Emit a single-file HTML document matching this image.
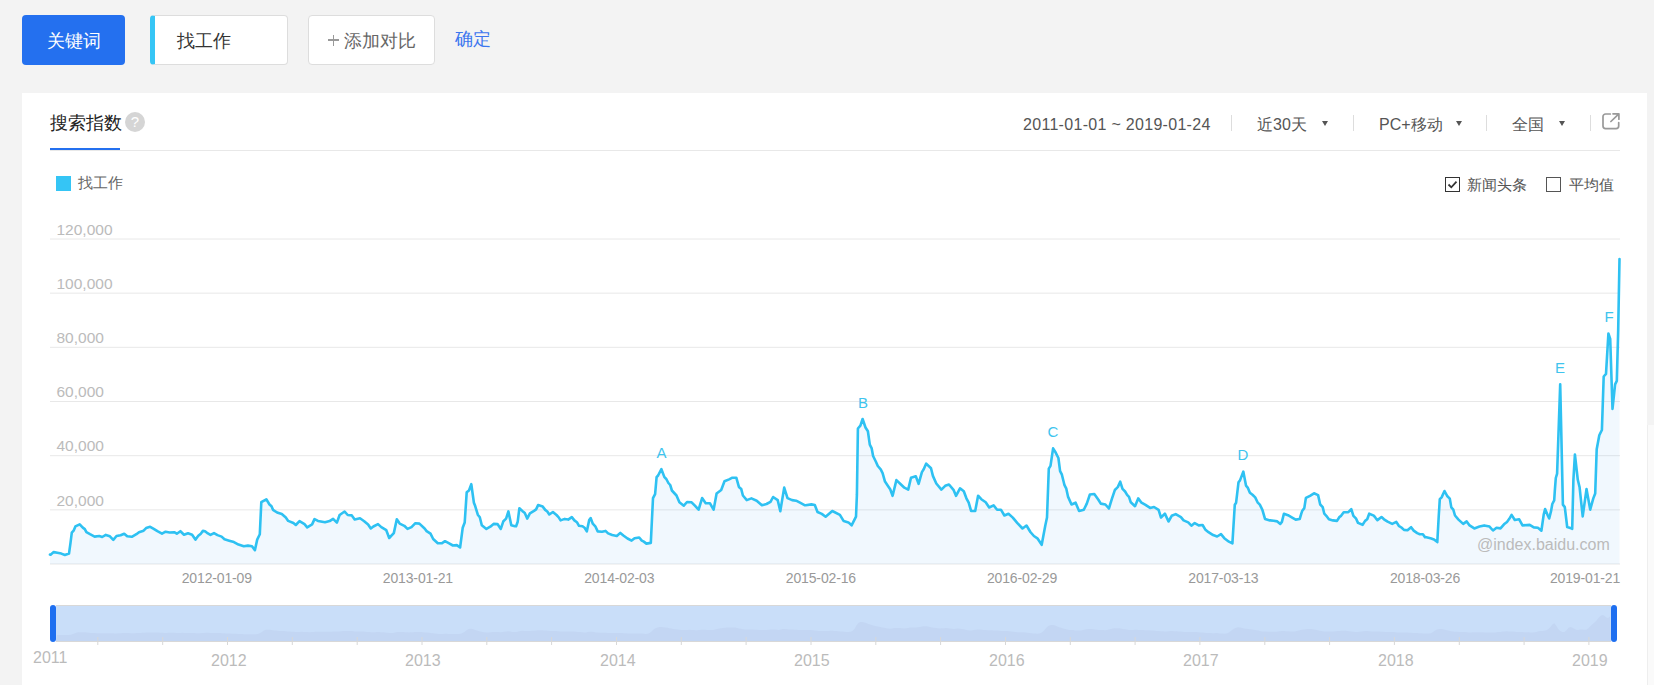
<!DOCTYPE html>
<html><head><meta charset="utf-8">
<style>
*{margin:0;padding:0;box-sizing:border-box}
html,body{width:1654px;height:685px;overflow:hidden;background:#f3f3f3;font-family:"Liberation Sans",sans-serif;position:relative}
.a{position:absolute;white-space:nowrap}
.btn{position:absolute;top:15px;height:50px;border-radius:4px}
#kw{left:22px;width:103px;background:#2470ef;color:#fff;font-size:18px}
#word{left:150px;width:138px;background:#fff;border:1px solid #ddd;border-left:5px solid #36c5f5;color:#333;font-size:18px}
#add{left:308px;width:127px;background:#fff;border:1px solid #ddd;color:#666;font-size:18px}
#panel{position:absolute;left:22px;top:93px;width:1625px;height:600px;background:#fff}
#strip{position:absolute;left:1647px;top:425px;width:7px;height:260px;background:#fafafa;border-left:1px solid #eee}
.hd{font-size:16px;color:#555;top:115px}
.sep{position:absolute;top:115px;width:1px;height:16px;background:#ddd}
.tri{position:absolute;top:121px;width:0;height:0;border-left:3px solid transparent;border-right:3px solid transparent;border-top:5px solid #555}
.ylab{font-size:15.5px;color:#bbb;left:56.5px}
.xlab{font-size:14px;color:#999;top:570px;letter-spacing:-0.15px;transform:translateX(-50%)}
.yr{font-size:16px;color:#bbb;top:652px}
.ann{font-size:15px;color:#3ec4ee}
</style></head><body>
<div class="btn" id="kw"><span class="a" style="left:25px;top:14px">关键词</span></div>
<div class="btn" id="word"><span class="a" style="left:22px;top:13px">找工作</span></div>
<div class="btn" id="add"><span class="a" style="left:35px;top:13px">添加对比</span></div>
<div class="a" style="left:328px;top:39.3px;width:11px;height:1.5px;background:#999"></div><div class="a" style="left:332.7px;top:34.6px;width:1.5px;height:11px;background:#999"></div>
<span class="a" style="left:455px;top:27px;font-size:18px;color:#3c76ef">确定</span>

<div id="panel"></div>
<div id="strip"></div>

<!-- header -->
<span class="a" style="left:50px;top:111px;font-size:18px;color:#222">搜索指数</span>
<div class="a" style="left:125px;top:112px;width:20px;height:20px;border-radius:50%;background:#d5d5d5;color:#fff;font-size:15px;text-align:center;line-height:20px">?</div>
<div class="a" style="left:50px;top:150px;width:1570px;height:1px;background:#e8e8e8"></div>
<div class="a" style="left:50px;top:148px;width:70px;height:2px;background:#2470ef"></div>

<span class="a hd" style="left:1023px;top:116px;letter-spacing:0.3px">2011-01-01 ~ 2019-01-24</span>
<div class="sep" style="left:1231px"></div>
<span class="a hd" style="left:1257px">近30天</span>
<div class="tri" style="left:1322px"></div>
<div class="sep" style="left:1353px"></div>
<span class="a hd" style="left:1379px">PC+移动</span>
<div class="tri" style="left:1456px"></div>
<div class="sep" style="left:1486px"></div>
<span class="a hd" style="left:1512px">全国</span>
<div class="tri" style="left:1559px"></div>
<div class="sep" style="left:1590px"></div>
<svg class="a" style="left:1601px;top:112px" width="20" height="18" viewBox="0 0 20 18"><path d="M9.3 2H4.6A2.6 2.6 0 0 0 2 4.6V14A2.6 2.6 0 0 0 4.6 16.6H15.1A2.6 2.6 0 0 0 17.7 14V10.6" fill="none" stroke="#999" stroke-width="1.7" stroke-linecap="round"/><path d="M12 1.8H17.9V7.2M17.6 2.1L9.9 9.5" fill="none" stroke="#999" stroke-width="1.7" stroke-linecap="round" stroke-linejoin="round"/></svg>

<!-- legend -->
<div class="a" style="left:56px;top:176px;width:15px;height:15px;background:#35c5f5"></div>
<span class="a" style="left:78px;top:174px;font-size:15px;color:#666">找工作</span>
<div class="a" style="left:1445px;top:177px;width:15px;height:15px;border:1.5px solid #333;border-radius:0"></div>
<svg class="a" style="left:1445px;top:177px" width="15" height="15"><path d="M3.5 7.5l2.8 2.8 5.2-5.6" fill="none" stroke="#333" stroke-width="1.8"/></svg>
<span class="a" style="left:1467px;top:176px;font-size:15px;color:#555">新闻头条</span>
<div class="a" style="left:1546px;top:177px;width:15px;height:15px;border:1.5px solid #555;border-radius:0"></div>
<span class="a" style="left:1569px;top:176px;font-size:15px;color:#555">平均值</span>

<!-- chart svg -->
<svg class="a" style="left:0;top:0" width="1654" height="685" id="chart">
<g stroke="#e8e8e8" stroke-width="1">
<line x1="50" x2="1620" y1="239.00" y2="239.00"/>
<line x1="50" x2="1620" y1="293.17" y2="293.17"/>
<line x1="50" x2="1620" y1="347.34" y2="347.34"/>
<line x1="50" x2="1620" y1="401.51" y2="401.51"/>
<line x1="50" x2="1620" y1="455.68" y2="455.68"/>
<line x1="50" x2="1620" y1="509.85" y2="509.85"/>
<line x1="50" x2="1620" y1="564.02" y2="564.02"/>
</g>
<!--LINE--><path d="M50.0,554.5 L50.6,554.7 L53.7,552.1 L57.3,552.8 L61.3,553.6 L64.9,555.0 L69.0,553.6 L70.5,542.9 L71.8,532.7 L73.6,530.7 L75.4,526.4 L79.7,524.3 L82.8,527.6 L84.8,529.1 L86.4,532.2 L90.0,534.2 L94.6,536.6 L99.2,536.0 L102.2,537.0 L105.8,534.9 L109.9,536.3 L113.3,539.8 L116.5,536.0 L120.6,535.2 L124.2,533.7 L127.2,536.3 L131.8,536.8 L136.4,534.2 L139.0,532.2 L143.6,530.7 L146.1,528.1 L150.2,526.8 L153.3,528.6 L157.4,531.2 L162.0,533.7 L165.6,531.7 L169.6,532.5 L174.2,532.2 L176.8,533.7 L180.4,531.2 L184.0,534.7 L188.0,533.2 L192.1,534.7 L195.4,539.6 L198.3,535.8 L200.8,533.7 L202.9,530.9 L205.0,531.2 L207.0,532.8 L210.5,534.9 L214.0,533.1 L217.5,535.1 L221.6,536.6 L224.5,539.3 L229.2,540.7 L233.9,542.1 L238.5,544.6 L243.8,546.3 L247.9,545.6 L252.0,546.3 L254.9,550.1 L257.2,539.6 L259.8,534.3 L261.3,502.2 L263.6,500.8 L266.3,499.3 L269.5,504.5 L271.5,506.3 L273.0,509.8 L277.1,512.5 L281.8,514.1 L285.8,517.6 L288.2,520.9 L293.4,523.0 L295.8,525.0 L299.5,521.1 L304.5,524.1 L307.2,527.3 L312.1,524.4 L314.5,519.1 L318.0,520.9 L325.0,522.3 L329.6,521.1 L333.1,518.8 L336.9,522.6 L339.6,515.0 L344.6,511.5 L347.7,515.0 L351.8,515.4 L354.7,519.5 L360.0,518.3 L364.2,521.2 L368.1,524.5 L370.8,528.5 L373.4,526.5 L378.0,524.1 L381.3,527.1 L386.3,530.2 L389.2,538.0 L393.8,533.1 L396.8,519.3 L399.7,523.6 L404.3,525.8 L407.5,528.9 L411.5,527.1 L415.4,523.2 L419.4,523.6 L424.6,528.5 L426.6,531.1 L430.5,533.7 L433.2,539.0 L437.8,543.3 L441.7,543.3 L445.0,541.2 L449.6,543.6 L452.9,545.5 L456.8,545.1 L460.1,547.5 L462.7,527.8 L464.7,522.5 L466.7,492.3 L469.0,490.4 L471.3,484.2 L473.9,502.8 L475.2,506.1 L477.8,514.7 L479.8,517.3 L481.8,525.2 L486.4,528.9 L490.3,526.7 L493.6,523.9 L497.5,524.1 L500.8,528.9 L503.4,521.2 L506.1,518.6 L508.4,511.4 L511.3,525.2 L515.0,526.2 L516.1,526.3 L517.7,521.7 L519.4,508.2 L522.3,510.9 L524.8,513.0 L527.2,518.6 L529.9,513.3 L534.0,510.9 L536.1,509.4 L538.1,505.1 L542.7,506.6 L545.2,509.9 L547.3,511.5 L549.3,514.5 L552.9,512.0 L556.5,515.0 L558.5,517.1 L560.6,520.4 L564.7,518.9 L568.2,519.6 L571.8,517.1 L574.4,520.4 L576.9,522.2 L579.0,525.8 L582.5,526.3 L584.6,527.8 L586.8,531.4 L589.2,520.1 L590.7,518.1 L592.8,523.7 L595.3,526.3 L597.7,531.4 L602.0,531.7 L605.5,530.9 L608.1,533.4 L612.2,535.0 L616.8,536.0 L620.3,532.9 L623.4,535.5 L627.5,538.5 L631.6,540.6 L634.6,538.2 L639.2,537.5 L641.8,540.6 L643.8,541.6 L646.4,543.6 L650.8,542.9 L653.0,498.2 L655.1,494.1 L656.6,477.1 L658.1,475.5 L661.4,469.2 L664.4,477.1 L666.3,479.0 L668.4,483.0 L670.2,485.0 L671.9,490.5 L676.5,495.5 L679.4,502.3 L683.8,505.7 L687.0,502.0 L691.6,502.3 L694.9,505.7 L698.6,509.7 L702.1,498.1 L705.7,503.3 L710.0,503.3 L713.6,509.7 L716.6,493.5 L721.2,490.0 L724.5,481.3 L729.1,479.4 L732.4,477.7 L736.3,477.7 L738.9,486.9 L741.2,488.9 L742.9,495.5 L746.8,500.1 L751.4,498.4 L756.7,500.7 L761.9,505.3 L766.5,504.0 L770.5,501.8 L773.1,497.0 L777.7,500.1 L780.3,511.2 L784.2,487.6 L787.5,498.1 L792.1,500.1 L796.1,500.7 L800.0,502.7 L805.0,505.3 L805.7,505.3 L811.4,504.4 L814.8,505.0 L817.5,512.0 L821.8,513.9 L825.6,516.7 L832.3,511.0 L839.9,514.8 L843.7,521.1 L848.4,522.4 L851.6,525.3 L856.0,516.7 L856.9,494.9 L857.9,428.5 L860.4,425.6 L862.6,419.0 L865.5,427.5 L867.9,431.3 L869.8,444.6 L871.7,448.4 L873.1,456.0 L875.9,461.7 L877.8,466.0 L880.7,469.3 L882.6,473.1 L885.0,481.6 L888.3,486.4 L890.2,489.2 L892.6,495.8 L896.4,480.1 L901.5,485.0 L904.4,487.7 L908.2,489.6 L911.0,477.8 L915.8,476.3 L918.6,483.9 L921.9,472.1 L923.7,469.3 L926.2,463.6 L931.0,468.3 L932.9,475.9 L936.3,483.5 L941.4,489.6 L945.2,485.8 L949.0,484.5 L953.7,490.2 L956.0,495.8 L960.0,488.3 L963.8,491.3 L966.4,498.3 L968.7,502.7 L971.1,511.0 L975.2,511.0 L978.1,495.7 L981.3,499.2 L985.7,502.2 L989.2,507.5 L993.6,505.4 L997.1,509.7 L1000.9,509.7 L1004.4,515.5 L1008.5,513.8 L1012.8,517.6 L1017.2,522.9 L1022.5,528.5 L1026.5,525.5 L1030.4,532.0 L1033.9,536.0 L1037.4,538.3 L1041.7,544.8 L1045.3,525.5 L1047.0,517.6 L1048.8,468.6 L1050.5,465.9 L1053.1,448.4 L1055.8,452.8 L1058.4,458.0 L1060.1,471.2 L1061.9,474.7 L1064.5,485.2 L1066.3,488.7 L1068.0,496.6 L1071.5,504.5 L1075.6,502.7 L1079.1,511.0 L1083.8,509.7 L1086.8,503.6 L1089.9,494.5 L1094.3,494.0 L1098.4,499.7 L1100.8,503.6 L1105.4,504.5 L1108.9,508.5 L1111.8,499.2 L1115.0,489.6 L1115.3,489.6 L1117.9,486.9 L1120.2,481.7 L1122.5,488.9 L1125.1,491.5 L1127.1,494.8 L1129.0,496.8 L1130.8,502.3 L1135.0,506.2 L1138.2,498.4 L1141.5,502.7 L1145.5,504.9 L1150.1,507.9 L1154.0,507.0 L1158.6,509.9 L1161.0,517.5 L1164.9,513.6 L1168.5,521.5 L1171.7,515.8 L1175.7,514.1 L1180.9,517.1 L1183.6,520.4 L1188.2,522.4 L1191.4,525.7 L1194.7,523.1 L1198.7,525.4 L1202.6,525.0 L1205.2,529.4 L1208.5,532.2 L1213.1,535.1 L1217.1,536.5 L1221.0,534.2 L1224.3,538.2 L1228.9,541.7 L1232.4,543.4 L1234.8,504.7 L1236.1,502.7 L1238.5,482.3 L1240.0,480.4 L1243.3,471.6 L1246.0,485.6 L1247.7,487.6 L1249.9,492.8 L1252.5,494.8 L1255.2,497.4 L1257.8,502.7 L1259.8,504.7 L1262.4,509.9 L1265.0,518.9 L1270.0,520.4 L1270.1,520.4 L1273.7,520.7 L1277.3,521.4 L1280.3,523.9 L1281.9,521.9 L1283.9,513.7 L1288.0,515.2 L1292.6,517.8 L1295.7,519.6 L1299.7,519.0 L1301.3,513.7 L1302.3,510.7 L1304.3,508.1 L1305.9,497.9 L1310.0,495.8 L1314.0,493.3 L1318.1,495.1 L1320.2,504.5 L1322.7,507.1 L1324.3,513.7 L1326.3,515.8 L1328.9,519.3 L1332.9,520.4 L1337.0,520.9 L1339.6,516.8 L1341.1,515.8 L1343.7,512.2 L1348.3,512.2 L1351.3,509.1 L1353.4,515.8 L1355.9,518.3 L1358.0,522.9 L1362.6,524.8 L1365.1,520.9 L1367.2,519.3 L1369.2,513.7 L1373.8,515.6 L1375.9,518.3 L1377.4,520.1 L1381.5,517.0 L1384.0,519.3 L1387.6,521.7 L1392.2,523.9 L1396.3,521.9 L1398.8,525.8 L1401.4,527.5 L1404.0,529.9 L1407.5,530.3 L1411.1,527.2 L1413.7,530.6 L1417.2,533.1 L1419.8,534.2 L1422.9,534.2 L1425.0,537.2 L1425.3,537.1 L1430.5,538.3 L1434.0,539.5 L1437.3,542.1 L1438.7,516.7 L1439.8,499.2 L1441.6,497.4 L1444.5,491.0 L1447.4,496.3 L1449.8,498.6 L1451.3,507.4 L1453.3,509.7 L1455.0,515.5 L1458.5,519.6 L1463.2,523.9 L1466.7,521.4 L1469.6,525.4 L1474.3,528.4 L1479.5,526.6 L1484.2,525.4 L1489.5,526.6 L1493.0,530.5 L1496.5,527.8 L1500.5,528.4 L1504.0,524.3 L1507.0,521.9 L1509.3,518.8 L1511.6,514.9 L1514.8,520.0 L1519.2,519.3 L1522.5,525.4 L1529.7,524.9 L1533.8,527.4 L1537.9,527.8 L1540.0,529.5 L1541.4,530.7 L1543.7,514.6 L1545.1,509.0 L1547.4,514.6 L1549.2,518.5 L1551.1,510.9 L1552.3,504.0 L1554.2,500.3 L1554.8,491.0 L1555.8,478.0 L1557.1,473.6 L1560.2,384.3 L1562.9,504.6 L1564.8,507.1 L1567.2,527.0 L1571.0,528.2 L1572.2,528.8 L1573.4,479.8 L1574.9,454.5 L1577.8,479.8 L1579.6,487.3 L1582.7,516.4 L1586.5,489.1 L1590.2,509.6 L1593.3,498.4 L1595.2,493.5 L1596.7,449.3 L1599.3,435.3 L1601.9,430.0 L1603.7,376.5 L1606.0,373.9 L1608.4,333.5 L1610.2,338.8 L1612.5,408.9 L1615.1,384.4 L1616.8,380.9 L1618.2,330.0 L1619.5,259.0 L1619.5,564 L50,564 Z" fill="rgb(80,167,242)" fill-opacity="0.08" stroke="none"/>
<path d="M50.0,554.5 L50.6,554.7 L53.7,552.1 L57.3,552.8 L61.3,553.6 L64.9,555.0 L69.0,553.6 L70.5,542.9 L71.8,532.7 L73.6,530.7 L75.4,526.4 L79.7,524.3 L82.8,527.6 L84.8,529.1 L86.4,532.2 L90.0,534.2 L94.6,536.6 L99.2,536.0 L102.2,537.0 L105.8,534.9 L109.9,536.3 L113.3,539.8 L116.5,536.0 L120.6,535.2 L124.2,533.7 L127.2,536.3 L131.8,536.8 L136.4,534.2 L139.0,532.2 L143.6,530.7 L146.1,528.1 L150.2,526.8 L153.3,528.6 L157.4,531.2 L162.0,533.7 L165.6,531.7 L169.6,532.5 L174.2,532.2 L176.8,533.7 L180.4,531.2 L184.0,534.7 L188.0,533.2 L192.1,534.7 L195.4,539.6 L198.3,535.8 L200.8,533.7 L202.9,530.9 L205.0,531.2 L207.0,532.8 L210.5,534.9 L214.0,533.1 L217.5,535.1 L221.6,536.6 L224.5,539.3 L229.2,540.7 L233.9,542.1 L238.5,544.6 L243.8,546.3 L247.9,545.6 L252.0,546.3 L254.9,550.1 L257.2,539.6 L259.8,534.3 L261.3,502.2 L263.6,500.8 L266.3,499.3 L269.5,504.5 L271.5,506.3 L273.0,509.8 L277.1,512.5 L281.8,514.1 L285.8,517.6 L288.2,520.9 L293.4,523.0 L295.8,525.0 L299.5,521.1 L304.5,524.1 L307.2,527.3 L312.1,524.4 L314.5,519.1 L318.0,520.9 L325.0,522.3 L329.6,521.1 L333.1,518.8 L336.9,522.6 L339.6,515.0 L344.6,511.5 L347.7,515.0 L351.8,515.4 L354.7,519.5 L360.0,518.3 L364.2,521.2 L368.1,524.5 L370.8,528.5 L373.4,526.5 L378.0,524.1 L381.3,527.1 L386.3,530.2 L389.2,538.0 L393.8,533.1 L396.8,519.3 L399.7,523.6 L404.3,525.8 L407.5,528.9 L411.5,527.1 L415.4,523.2 L419.4,523.6 L424.6,528.5 L426.6,531.1 L430.5,533.7 L433.2,539.0 L437.8,543.3 L441.7,543.3 L445.0,541.2 L449.6,543.6 L452.9,545.5 L456.8,545.1 L460.1,547.5 L462.7,527.8 L464.7,522.5 L466.7,492.3 L469.0,490.4 L471.3,484.2 L473.9,502.8 L475.2,506.1 L477.8,514.7 L479.8,517.3 L481.8,525.2 L486.4,528.9 L490.3,526.7 L493.6,523.9 L497.5,524.1 L500.8,528.9 L503.4,521.2 L506.1,518.6 L508.4,511.4 L511.3,525.2 L515.0,526.2 L516.1,526.3 L517.7,521.7 L519.4,508.2 L522.3,510.9 L524.8,513.0 L527.2,518.6 L529.9,513.3 L534.0,510.9 L536.1,509.4 L538.1,505.1 L542.7,506.6 L545.2,509.9 L547.3,511.5 L549.3,514.5 L552.9,512.0 L556.5,515.0 L558.5,517.1 L560.6,520.4 L564.7,518.9 L568.2,519.6 L571.8,517.1 L574.4,520.4 L576.9,522.2 L579.0,525.8 L582.5,526.3 L584.6,527.8 L586.8,531.4 L589.2,520.1 L590.7,518.1 L592.8,523.7 L595.3,526.3 L597.7,531.4 L602.0,531.7 L605.5,530.9 L608.1,533.4 L612.2,535.0 L616.8,536.0 L620.3,532.9 L623.4,535.5 L627.5,538.5 L631.6,540.6 L634.6,538.2 L639.2,537.5 L641.8,540.6 L643.8,541.6 L646.4,543.6 L650.8,542.9 L653.0,498.2 L655.1,494.1 L656.6,477.1 L658.1,475.5 L661.4,469.2 L664.4,477.1 L666.3,479.0 L668.4,483.0 L670.2,485.0 L671.9,490.5 L676.5,495.5 L679.4,502.3 L683.8,505.7 L687.0,502.0 L691.6,502.3 L694.9,505.7 L698.6,509.7 L702.1,498.1 L705.7,503.3 L710.0,503.3 L713.6,509.7 L716.6,493.5 L721.2,490.0 L724.5,481.3 L729.1,479.4 L732.4,477.7 L736.3,477.7 L738.9,486.9 L741.2,488.9 L742.9,495.5 L746.8,500.1 L751.4,498.4 L756.7,500.7 L761.9,505.3 L766.5,504.0 L770.5,501.8 L773.1,497.0 L777.7,500.1 L780.3,511.2 L784.2,487.6 L787.5,498.1 L792.1,500.1 L796.1,500.7 L800.0,502.7 L805.0,505.3 L805.7,505.3 L811.4,504.4 L814.8,505.0 L817.5,512.0 L821.8,513.9 L825.6,516.7 L832.3,511.0 L839.9,514.8 L843.7,521.1 L848.4,522.4 L851.6,525.3 L856.0,516.7 L856.9,494.9 L857.9,428.5 L860.4,425.6 L862.6,419.0 L865.5,427.5 L867.9,431.3 L869.8,444.6 L871.7,448.4 L873.1,456.0 L875.9,461.7 L877.8,466.0 L880.7,469.3 L882.6,473.1 L885.0,481.6 L888.3,486.4 L890.2,489.2 L892.6,495.8 L896.4,480.1 L901.5,485.0 L904.4,487.7 L908.2,489.6 L911.0,477.8 L915.8,476.3 L918.6,483.9 L921.9,472.1 L923.7,469.3 L926.2,463.6 L931.0,468.3 L932.9,475.9 L936.3,483.5 L941.4,489.6 L945.2,485.8 L949.0,484.5 L953.7,490.2 L956.0,495.8 L960.0,488.3 L963.8,491.3 L966.4,498.3 L968.7,502.7 L971.1,511.0 L975.2,511.0 L978.1,495.7 L981.3,499.2 L985.7,502.2 L989.2,507.5 L993.6,505.4 L997.1,509.7 L1000.9,509.7 L1004.4,515.5 L1008.5,513.8 L1012.8,517.6 L1017.2,522.9 L1022.5,528.5 L1026.5,525.5 L1030.4,532.0 L1033.9,536.0 L1037.4,538.3 L1041.7,544.8 L1045.3,525.5 L1047.0,517.6 L1048.8,468.6 L1050.5,465.9 L1053.1,448.4 L1055.8,452.8 L1058.4,458.0 L1060.1,471.2 L1061.9,474.7 L1064.5,485.2 L1066.3,488.7 L1068.0,496.6 L1071.5,504.5 L1075.6,502.7 L1079.1,511.0 L1083.8,509.7 L1086.8,503.6 L1089.9,494.5 L1094.3,494.0 L1098.4,499.7 L1100.8,503.6 L1105.4,504.5 L1108.9,508.5 L1111.8,499.2 L1115.0,489.6 L1115.3,489.6 L1117.9,486.9 L1120.2,481.7 L1122.5,488.9 L1125.1,491.5 L1127.1,494.8 L1129.0,496.8 L1130.8,502.3 L1135.0,506.2 L1138.2,498.4 L1141.5,502.7 L1145.5,504.9 L1150.1,507.9 L1154.0,507.0 L1158.6,509.9 L1161.0,517.5 L1164.9,513.6 L1168.5,521.5 L1171.7,515.8 L1175.7,514.1 L1180.9,517.1 L1183.6,520.4 L1188.2,522.4 L1191.4,525.7 L1194.7,523.1 L1198.7,525.4 L1202.6,525.0 L1205.2,529.4 L1208.5,532.2 L1213.1,535.1 L1217.1,536.5 L1221.0,534.2 L1224.3,538.2 L1228.9,541.7 L1232.4,543.4 L1234.8,504.7 L1236.1,502.7 L1238.5,482.3 L1240.0,480.4 L1243.3,471.6 L1246.0,485.6 L1247.7,487.6 L1249.9,492.8 L1252.5,494.8 L1255.2,497.4 L1257.8,502.7 L1259.8,504.7 L1262.4,509.9 L1265.0,518.9 L1270.0,520.4 L1270.1,520.4 L1273.7,520.7 L1277.3,521.4 L1280.3,523.9 L1281.9,521.9 L1283.9,513.7 L1288.0,515.2 L1292.6,517.8 L1295.7,519.6 L1299.7,519.0 L1301.3,513.7 L1302.3,510.7 L1304.3,508.1 L1305.9,497.9 L1310.0,495.8 L1314.0,493.3 L1318.1,495.1 L1320.2,504.5 L1322.7,507.1 L1324.3,513.7 L1326.3,515.8 L1328.9,519.3 L1332.9,520.4 L1337.0,520.9 L1339.6,516.8 L1341.1,515.8 L1343.7,512.2 L1348.3,512.2 L1351.3,509.1 L1353.4,515.8 L1355.9,518.3 L1358.0,522.9 L1362.6,524.8 L1365.1,520.9 L1367.2,519.3 L1369.2,513.7 L1373.8,515.6 L1375.9,518.3 L1377.4,520.1 L1381.5,517.0 L1384.0,519.3 L1387.6,521.7 L1392.2,523.9 L1396.3,521.9 L1398.8,525.8 L1401.4,527.5 L1404.0,529.9 L1407.5,530.3 L1411.1,527.2 L1413.7,530.6 L1417.2,533.1 L1419.8,534.2 L1422.9,534.2 L1425.0,537.2 L1425.3,537.1 L1430.5,538.3 L1434.0,539.5 L1437.3,542.1 L1438.7,516.7 L1439.8,499.2 L1441.6,497.4 L1444.5,491.0 L1447.4,496.3 L1449.8,498.6 L1451.3,507.4 L1453.3,509.7 L1455.0,515.5 L1458.5,519.6 L1463.2,523.9 L1466.7,521.4 L1469.6,525.4 L1474.3,528.4 L1479.5,526.6 L1484.2,525.4 L1489.5,526.6 L1493.0,530.5 L1496.5,527.8 L1500.5,528.4 L1504.0,524.3 L1507.0,521.9 L1509.3,518.8 L1511.6,514.9 L1514.8,520.0 L1519.2,519.3 L1522.5,525.4 L1529.7,524.9 L1533.8,527.4 L1537.9,527.8 L1540.0,529.5 L1541.4,530.7 L1543.7,514.6 L1545.1,509.0 L1547.4,514.6 L1549.2,518.5 L1551.1,510.9 L1552.3,504.0 L1554.2,500.3 L1554.8,491.0 L1555.8,478.0 L1557.1,473.6 L1560.2,384.3 L1562.9,504.6 L1564.8,507.1 L1567.2,527.0 L1571.0,528.2 L1572.2,528.8 L1573.4,479.8 L1574.9,454.5 L1577.8,479.8 L1579.6,487.3 L1582.7,516.4 L1586.5,489.1 L1590.2,509.6 L1593.3,498.4 L1595.2,493.5 L1596.7,449.3 L1599.3,435.3 L1601.9,430.0 L1603.7,376.5 L1606.0,373.9 L1608.4,333.5 L1610.2,338.8 L1612.5,408.9 L1615.1,384.4 L1616.8,380.9 L1618.2,330.0 L1619.5,259.0" fill="none" stroke="#2ec1f2" stroke-width="2.6" stroke-linejoin="round" stroke-linecap="round"/><!--/LINE-->
<!--SLIDER--><rect x="56" y="605" width="1555" height="36" fill="#c9def9"/>
<path d="M56,641 L57.0,634.9 L59.0,634.9 L61.0,634.9 L62.9,634.9 L64.9,635.0 L66.9,635.0 L68.9,635.0 L70.9,634.7 L72.9,634.1 L74.9,633.2 L76.9,632.6 L78.9,632.3 L80.8,632.2 L82.8,632.2 L84.8,632.3 L86.8,632.5 L88.8,632.7 L90.8,632.9 L92.8,633.0 L94.8,633.1 L96.7,633.2 L98.7,633.2 L100.7,633.2 L102.7,633.2 L104.7,633.2 L106.7,633.2 L108.7,633.2 L110.7,633.2 L112.7,633.3 L114.6,633.4 L116.6,633.4 L118.6,633.3 L120.6,633.2 L122.6,633.1 L124.6,633.1 L126.6,633.1 L128.6,633.1 L130.6,633.2 L132.5,633.2 L134.5,633.2 L136.5,633.1 L138.5,633.0 L140.5,632.9 L142.5,632.8 L144.5,632.7 L146.5,632.6 L148.4,632.5 L150.4,632.4 L152.4,632.4 L154.4,632.4 L156.4,632.5 L158.4,632.6 L160.4,632.7 L162.4,632.8 L164.4,632.9 L166.3,632.9 L168.3,632.8 L170.3,632.8 L172.3,632.8 L174.3,632.8 L176.3,632.9 L178.3,632.9 L180.3,632.9 L182.3,632.8 L184.2,632.9 L186.2,633.0 L188.2,633.0 L190.2,633.0 L192.2,633.0 L194.2,633.1 L196.2,633.3 L198.2,633.3 L200.2,633.2 L202.1,633.0 L204.1,632.9 L206.1,632.8 L208.1,632.8 L210.1,632.9 L212.1,633.0 L214.1,633.0 L216.1,633.0 L218.0,633.0 L220.0,633.1 L222.0,633.2 L224.0,633.3 L226.0,633.5 L228.0,633.6 L230.0,633.6 L232.0,633.7 L234.0,633.8 L235.9,633.8 L237.9,633.9 L239.9,634.0 L241.9,634.1 L243.9,634.2 L245.9,634.2 L247.9,634.2 L249.9,634.2 L251.9,634.2 L253.8,634.3 L255.8,634.3 L257.8,633.9 L259.8,633.2 L261.8,631.9 L263.8,630.6 L265.8,629.8 L267.8,629.7 L269.8,629.8 L271.7,630.1 L273.7,630.4 L275.7,630.6 L277.7,630.8 L279.7,630.9 L281.7,631.0 L283.7,631.1 L285.7,631.2 L287.6,631.4 L289.6,631.6 L291.6,631.7 L293.6,631.8 L295.6,631.9 L297.6,632.0 L299.6,631.9 L301.6,631.8 L303.6,631.9 L305.5,632.0 L307.5,632.1 L309.5,632.2 L311.5,632.1 L313.5,632.0 L315.5,631.7 L317.5,631.7 L319.5,631.7 L321.5,631.7 L323.4,631.8 L325.4,631.8 L327.4,631.8 L329.4,631.7 L331.4,631.7 L333.4,631.6 L335.4,631.6 L337.4,631.6 L339.3,631.5 L341.3,631.2 L343.3,631.0 L345.3,630.9 L347.3,630.9 L349.3,631.0 L351.3,631.1 L353.3,631.2 L355.3,631.4 L357.2,631.5 L359.2,631.5 L361.2,631.5 L363.2,631.6 L365.2,631.7 L367.2,631.9 L369.2,632.1 L371.2,632.2 L373.2,632.3 L375.1,632.2 L377.1,632.1 L379.1,632.1 L381.1,632.2 L383.1,632.3 L385.1,632.5 L387.1,632.7 L389.1,633.0 L391.1,633.1 L393.0,633.0 L395.0,632.6 L397.0,632.1 L399.0,631.9 L401.0,631.9 L403.0,632.1 L405.0,632.2 L407.0,632.3 L408.9,632.4 L410.9,632.3 L412.9,632.2 L414.9,632.1 L416.9,632.0 L418.9,632.0 L420.9,632.1 L422.9,632.2 L424.9,632.4 L426.8,632.6 L428.8,632.8 L430.8,633.0 L432.8,633.3 L434.8,633.5 L436.8,633.7 L438.8,633.9 L440.8,633.9 L442.8,633.9 L444.7,633.8 L446.7,633.8 L448.7,633.9 L450.7,634.0 L452.7,634.1 L454.7,634.1 L456.7,634.1 L458.7,634.1 L460.6,633.8 L462.6,632.9 L464.6,631.7 L466.6,630.2 L468.6,629.1 L470.6,628.7 L472.6,628.9 L474.6,629.7 L476.6,630.4 L478.5,631.0 L480.5,631.5 L482.5,631.9 L484.5,632.2 L486.5,632.4 L488.5,632.4 L490.5,632.3 L492.5,632.1 L494.5,632.1 L496.4,632.0 L498.4,632.1 L500.4,632.2 L502.4,632.0 L504.4,631.7 L506.4,631.4 L508.4,631.3 L510.4,631.6 L512.4,631.9 L514.3,632.1 L516.3,631.9 L518.3,631.4 L520.3,630.9 L522.3,630.7 L524.3,630.9 L526.3,631.1 L528.3,631.1 L530.2,631.0 L532.2,630.8 L534.2,630.7 L536.2,630.5 L538.2,630.3 L540.2,630.2 L542.2,630.3 L544.2,630.4 L546.2,630.6 L548.1,630.8 L550.1,630.9 L552.1,630.9 L554.1,630.9 L556.1,631.1 L558.1,631.3 L560.1,631.5 L562.1,631.5 L564.1,631.5 L566.0,631.5 L568.0,631.5 L570.0,631.5 L572.0,631.5 L574.0,631.6 L576.0,631.8 L578.0,632.0 L580.0,632.1 L582.0,632.3 L583.9,632.4 L585.9,632.4 L587.9,632.1 L589.9,631.8 L591.9,631.8 L593.9,632.1 L595.9,632.4 L597.9,632.6 L599.8,632.7 L601.8,632.7 L603.8,632.8 L605.8,632.8 L607.8,632.9 L609.8,633.0 L611.8,633.1 L613.8,633.1 L615.8,633.1 L617.7,633.1 L619.7,633.0 L621.7,633.1 L623.7,633.2 L625.7,633.3 L627.7,633.5 L629.7,633.5 L631.7,633.6 L633.7,633.5 L635.6,633.4 L637.6,633.4 L639.6,633.5 L641.6,633.6 L643.6,633.8 L645.6,633.9 L647.6,633.8 L649.6,633.1 L651.5,631.4 L653.5,629.6 L655.5,628.2 L657.5,627.4 L659.5,626.9 L661.5,626.9 L663.5,627.2 L665.5,627.5 L667.5,627.8 L669.4,628.2 L671.4,628.5 L673.4,628.9 L675.4,629.2 L677.4,629.5 L679.4,629.8 L681.4,630.0 L683.4,630.0 L685.4,629.9 L687.3,629.9 L689.3,629.8 L691.3,629.9 L693.3,630.1 L695.3,630.3 L697.3,630.3 L699.3,630.0 L701.3,629.8 L703.3,629.7 L705.2,629.8 L707.2,629.9 L709.2,630.0 L711.2,630.1 L713.2,630.0 L715.2,629.4 L717.2,629.0 L719.2,628.6 L721.1,628.3 L723.1,628.0 L725.1,627.7 L727.1,627.6 L729.1,627.5 L731.1,627.4 L733.1,627.4 L735.1,627.6 L737.1,628.0 L739.0,628.4 L741.0,628.8 L743.0,629.2 L745.0,629.4 L747.0,629.5 L749.0,629.5 L751.0,629.5 L753.0,629.6 L755.0,629.7 L756.9,629.8 L758.9,629.9 L760.9,630.0 L762.9,630.1 L764.9,630.0 L766.9,629.9 L768.9,629.7 L770.9,629.6 L772.8,629.5 L774.8,629.6 L776.8,629.8 L778.8,630.0 L780.8,629.6 L782.8,629.1 L784.8,629.0 L786.8,629.3 L788.8,629.5 L790.7,629.6 L792.7,629.6 L794.7,629.7 L796.7,629.8 L798.7,629.9 L800.7,630.0 L802.7,630.1 L804.7,630.1 L806.7,630.1 L808.6,630.1 L810.6,630.1 L812.6,630.2 L814.6,630.4 L816.6,630.7 L818.6,630.9 L820.6,631.0 L822.6,631.1 L824.6,631.1 L826.5,631.0 L828.5,630.9 L830.5,630.8 L832.5,630.8 L834.5,630.9 L836.5,631.0 L838.5,631.2 L840.5,631.4 L842.4,631.6 L844.4,631.8 L846.4,631.9 L848.4,631.9 L850.4,631.8 L852.4,631.1 L854.4,628.9 L856.4,625.4 L858.4,622.9 L860.3,622.0 L862.3,622.1 L864.3,622.5 L866.3,623.1 L868.3,623.9 L870.3,624.6 L872.3,625.3 L874.3,625.8 L876.3,626.2 L878.2,626.5 L880.2,626.9 L882.2,627.4 L884.2,627.8 L886.2,628.2 L888.2,628.5 L890.2,628.7 L892.2,628.5 L894.2,628.1 L896.1,627.9 L898.1,628.0 L900.1,628.1 L902.1,628.3 L904.1,628.4 L906.1,628.2 L908.1,627.9 L910.1,627.5 L912.0,627.4 L914.0,627.4 L916.0,627.5 L918.0,627.3 L920.0,626.9 L922.0,626.5 L924.0,626.2 L926.0,626.2 L928.0,626.4 L929.9,626.9 L931.9,627.4 L933.9,627.8 L935.9,628.1 L937.9,628.3 L939.9,628.4 L941.9,628.3 L943.9,628.2 L945.9,628.1 L947.8,628.2 L949.8,628.4 L951.8,628.7 L953.8,628.9 L955.8,628.8 L957.8,628.6 L959.8,628.7 L961.8,628.9 L963.7,629.3 L965.7,629.8 L967.7,630.2 L969.7,630.5 L971.7,630.5 L973.7,630.1 L975.7,629.7 L977.7,629.5 L979.7,629.6 L981.6,629.7 L983.6,629.9 L985.6,630.1 L987.6,630.2 L989.6,630.2 L991.6,630.3 L993.6,630.4 L995.6,630.5 L997.6,630.6 L999.5,630.8 L1001.5,631.0 L1003.5,631.0 L1005.5,631.1 L1007.5,631.1 L1009.5,631.3 L1011.5,631.5 L1013.5,631.7 L1015.5,632.0 L1017.4,632.2 L1019.4,632.3 L1021.4,632.3 L1023.4,632.3 L1025.4,632.5 L1027.4,632.7 L1029.4,633.0 L1031.4,633.2 L1033.3,633.4 L1035.3,633.5 L1037.3,633.7 L1039.3,633.5 L1041.3,632.7 L1043.3,631.2 L1045.3,628.9 L1047.3,626.8 L1049.3,625.5 L1051.2,624.9 L1053.2,625.1 L1055.2,625.6 L1057.2,626.4 L1059.2,627.2 L1061.2,627.8 L1063.2,628.5 L1065.2,629.1 L1067.2,629.6 L1069.1,629.9 L1071.1,630.0 L1073.1,630.1 L1075.1,630.4 L1077.1,630.6 L1079.1,630.6 L1081.1,630.4 L1083.1,630.1 L1085.0,629.6 L1087.0,629.3 L1089.0,629.1 L1091.0,629.1 L1093.0,629.3 L1095.0,629.5 L1097.0,629.8 L1099.0,629.9 L1101.0,630.0 L1102.9,630.1 L1104.9,630.2 L1106.9,629.9 L1108.9,629.5 L1110.9,628.9 L1112.9,628.5 L1114.9,628.3 L1116.9,628.2 L1118.9,628.3 L1120.8,628.6 L1122.8,628.9 L1124.8,629.2 L1126.8,629.6 L1128.8,629.9 L1130.8,630.0 L1132.8,629.9 L1134.8,629.7 L1136.8,629.7 L1138.7,629.9 L1140.7,630.0 L1142.7,630.1 L1144.7,630.2 L1146.7,630.3 L1148.7,630.3 L1150.7,630.4 L1152.7,630.5 L1154.6,630.7 L1156.6,630.9 L1158.6,631.1 L1160.6,631.2 L1162.6,631.3 L1164.6,631.4 L1166.6,631.4 L1168.6,631.2 L1170.6,631.1 L1172.5,631.1 L1174.5,631.2 L1176.5,631.3 L1178.5,631.4 L1180.5,631.6 L1182.5,631.7 L1184.5,631.9 L1186.5,632.0 L1188.5,632.0 L1190.4,632.0 L1192.4,632.0 L1194.4,632.1 L1196.4,632.1 L1198.4,632.2 L1200.4,632.4 L1202.4,632.6 L1204.4,632.8 L1206.4,632.9 L1208.3,633.0 L1210.3,633.1 L1212.3,633.2 L1214.3,633.2 L1216.3,633.1 L1218.3,633.2 L1220.3,633.4 L1222.3,633.5 L1224.2,633.7 L1226.2,633.6 L1228.2,633.0 L1230.2,631.5 L1232.2,629.9 L1234.2,628.6 L1236.2,627.7 L1238.2,627.3 L1240.2,627.5 L1242.1,627.9 L1244.1,628.4 L1246.1,628.8 L1248.1,629.0 L1250.1,629.3 L1252.1,629.5 L1254.1,629.8 L1256.1,630.2 L1258.1,630.6 L1260.0,631.1 L1262.0,631.4 L1264.0,631.6 L1266.0,631.6 L1268.0,631.7 L1270.0,631.7 L1272.0,631.7 L1274.0,631.8 L1275.9,631.8 L1277.9,631.6 L1279.9,631.3 L1281.9,631.1 L1283.9,631.1 L1285.9,631.2 L1287.9,631.3 L1289.9,631.4 L1291.9,631.5 L1293.8,631.4 L1295.8,631.2 L1297.8,630.8 L1299.8,630.3 L1301.8,629.7 L1303.8,629.4 L1305.8,629.2 L1307.8,629.1 L1309.8,629.0 L1311.7,629.1 L1313.7,629.4 L1315.7,629.8 L1317.7,630.3 L1319.7,630.7 L1321.7,631.1 L1323.7,631.4 L1325.7,631.5 L1327.7,631.6 L1329.6,631.6 L1331.6,631.6 L1333.6,631.5 L1335.6,631.3 L1337.6,631.1 L1339.6,630.9 L1341.6,630.8 L1343.6,630.8 L1345.5,630.7 L1347.5,630.9 L1349.5,631.2 L1351.5,631.5 L1353.5,631.8 L1355.5,631.9 L1357.5,631.9 L1359.5,631.8 L1361.5,631.6 L1363.4,631.3 L1365.4,631.1 L1367.4,631.1 L1369.4,631.2 L1371.4,631.4 L1373.4,631.5 L1375.4,631.4 L1377.4,631.4 L1379.4,631.5 L1381.3,631.7 L1383.3,631.8 L1385.3,631.9 L1387.3,631.9 L1389.3,631.9 L1391.3,631.9 L1393.3,632.1 L1395.3,632.2 L1397.2,632.4 L1399.2,632.5 L1401.2,632.6 L1403.2,632.5 L1405.2,632.5 L1407.2,632.5 L1409.2,632.7 L1411.2,632.8 L1413.2,632.9 L1415.1,633.0 L1417.1,633.1 L1419.1,633.2 L1421.1,633.3 L1423.1,633.4 L1425.1,633.4 L1427.1,633.5 L1429.1,633.5 L1431.1,633.2 L1433.0,632.0 L1435.0,630.4 L1437.0,629.4 L1439.0,629.0 L1441.0,629.1 L1443.0,629.3 L1445.0,629.8 L1447.0,630.3 L1449.0,630.8 L1450.9,631.2 L1452.9,631.5 L1454.9,631.7 L1456.9,631.8 L1458.9,631.9 L1460.9,631.9 L1462.9,632.0 L1464.9,632.1 L1466.8,632.3 L1468.8,632.4 L1470.8,632.4 L1472.8,632.3 L1474.8,632.3 L1476.8,632.2 L1478.8,632.2 L1480.8,632.2 L1482.8,632.3 L1484.7,632.4 L1486.7,632.5 L1488.7,632.5 L1490.7,632.5 L1492.7,632.4 L1494.7,632.4 L1496.7,632.2 L1498.7,632.1 L1500.7,631.9 L1502.6,631.6 L1504.6,631.4 L1506.6,631.3 L1508.6,631.4 L1510.6,631.5 L1512.6,631.6 L1514.6,631.7 L1516.6,632.0 L1518.6,632.1 L1520.5,632.1 L1522.5,632.1 L1524.5,632.2 L1526.5,632.2 L1528.5,632.3 L1530.5,632.4 L1532.5,632.4 L1534.5,632.3 L1536.4,631.9 L1538.4,631.3 L1540.4,631.0 L1542.4,631.0 L1544.4,630.8 L1546.4,630.2 L1548.4,629.0 L1550.4,627.0 L1552.4,624.4 L1554.3,623.3 L1556.3,625.7 L1558.3,629.1 L1560.3,631.1 L1562.3,631.9 L1564.3,631.9 L1566.3,630.4 L1568.3,628.1 L1570.3,627.0 L1572.2,627.6 L1574.2,628.8 L1576.2,629.8 L1578.2,629.9 L1580.2,629.5 L1582.2,629.6 L1584.2,629.8 L1586.2,629.7 L1588.1,628.6 L1590.1,626.6 L1592.1,624.4 L1594.1,622.8 L1596.1,620.9 L1598.1,618.5 L1600.1,616.3 L1602.1,615.0 L1604.1,615.4 L1606.0,617.3 L1608.0,618.1 L1610.0,616.4 L1611,641 Z" fill="#c3d6f3"/>
<g stroke="#d8d8d8" stroke-width="1"><line x1="56" x2="1611" y1="605.5" y2="605.5"/><line x1="56" x2="1611" y1="641.5" y2="641.5"/><line x1="97.8" x2="97.8" y1="637" y2="645"/><line x1="162.7" x2="162.7" y1="637" y2="645"/><line x1="227.5" x2="227.5" y1="637" y2="645"/><line x1="292.3" x2="292.3" y1="637" y2="645"/><line x1="357.2" x2="357.2" y1="637" y2="645"/><line x1="422.0" x2="422.0" y1="637" y2="645"/><line x1="486.8" x2="486.8" y1="637" y2="645"/><line x1="551.6" x2="551.6" y1="637" y2="645"/><line x1="616.5" x2="616.5" y1="637" y2="645"/><line x1="681.3" x2="681.3" y1="637" y2="645"/><line x1="746.1" x2="746.1" y1="637" y2="645"/><line x1="811.0" x2="811.0" y1="637" y2="645"/><line x1="875.8" x2="875.8" y1="637" y2="645"/><line x1="940.6" x2="940.6" y1="637" y2="645"/><line x1="1005.5" x2="1005.5" y1="637" y2="645"/><line x1="1070.3" x2="1070.3" y1="637" y2="645"/><line x1="1135.1" x2="1135.1" y1="637" y2="645"/><line x1="1199.9" x2="1199.9" y1="637" y2="645"/><line x1="1264.8" x2="1264.8" y1="637" y2="645"/><line x1="1329.6" x2="1329.6" y1="637" y2="645"/><line x1="1394.4" x2="1394.4" y1="637" y2="645"/><line x1="1459.3" x2="1459.3" y1="637" y2="645"/><line x1="1524.1" x2="1524.1" y1="637" y2="645"/><line x1="1588.9" x2="1588.9" y1="637" y2="645"/></g>
<rect x="50" y="605" width="6" height="37" rx="3" fill="#1e6ff0"/>
<rect x="1611" y="605" width="6" height="37" rx="3" fill="#1e6ff0"/>
<g font-family="Liberation Sans" font-size="15" fill="#3ec4ee" text-anchor="middle">
<text x="661.5" y="458">A</text><text x="863" y="408">B</text><text x="1053" y="437">C</text><text x="1243" y="459.5">D</text><text x="1560" y="373">E</text><text x="1609" y="321.5">F</text></g><!--/SLIDER-->
</svg>

<span class="a ylab" style="top:221px">120,000</span>
<span class="a ylab" style="top:275px">100,000</span>
<span class="a ylab" style="top:329px">80,000</span>
<span class="a ylab" style="top:383px">60,000</span>
<span class="a ylab" style="top:437px">40,000</span>
<span class="a ylab" style="top:491.5px">20,000</span>

<span class="a xlab" style="left:216.8px">2012-01-09</span>
<span class="a xlab" style="left:417.9px">2013-01-21</span>
<span class="a xlab" style="left:619.3px">2014-02-03</span>
<span class="a xlab" style="left:820.9px">2015-02-16</span>
<span class="a xlab" style="left:1022px">2016-02-29</span>
<span class="a xlab" style="left:1223.4px">2017-03-13</span>
<span class="a xlab" style="left:1425px">2018-03-26</span>
<span class="a xlab" style="left:1585px">2019-01-21</span>

<span class="a" style="left:1477px;top:535.5px;font-size:16px;color:#bbb">@index.baidu.com</span>

<span class="a yr" style="left:33px;top:649px">2011</span>
<span class="a yr" style="left:211px">2012</span>
<span class="a yr" style="left:405px">2013</span>
<span class="a yr" style="left:600px">2014</span>
<span class="a yr" style="left:794px">2015</span>
<span class="a yr" style="left:989px">2016</span>
<span class="a yr" style="left:1183px">2017</span>
<span class="a yr" style="left:1378px">2018</span>
<span class="a yr" style="left:1572px">2019</span>
</body></html>
